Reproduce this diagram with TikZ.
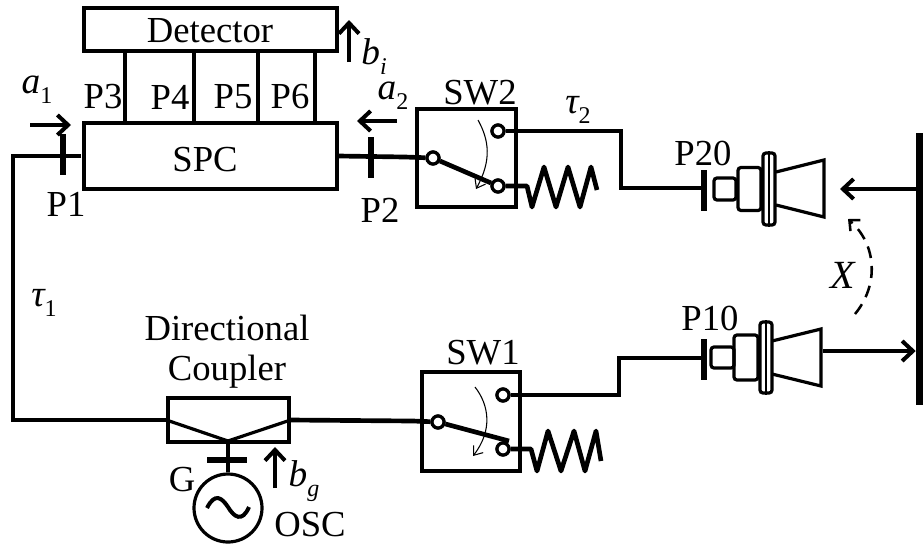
\documentclass[tikz,border=0pt]{standalone}
\usepackage{fontspec}
\setmainfont{Liberation Serif}
\usetikzlibrary{arrows.meta}
\newcommand{\sublab}[2]{#1\raisebox{-.27em}{\fontsize{18}{18}\selectfont #2}}
\tikzset{
  x=0.75pt,y=-0.75pt,
  lab/.style={font=\fontsize{27.5}{27.5}\selectfont,inner sep=0pt,anchor=center},
  mlab/.style={font=\fontsize{28}{28}\selectfont\itshape,inner sep=0pt,anchor=center},
  dims/.style 2 args={minimum width=#1*0.75pt,minimum height=#2*0.75pt},
  wire/.style={line width=3.5pt,line join=miter},
  thin wire/.style={line width=2.4pt},
  tick/.style={line width=4.2pt},
  contact/.style={circle,draw,line width=2.4pt,fill=white,minimum size=12*0.75pt,inner sep=0pt},
  sig/.style={line width=3.4pt,-{Straight Barb[length=8pt,width=15pt,line width=3pt]}},
  sigthin/.style={line width=2.6pt,-{Straight Barb[length=8pt,width=15pt,line width=3pt]}},
  rot/.style={line width=0.8pt,-{Straight Barb[length=6pt,width=9pt,line width=0.8pt]}},
  part/.style={draw,line width=2.4pt,rounded corners=2.2pt,rectangle,inner sep=0pt},
}
\begin{document}
\begin{tikzpicture}
\useasboundingbox (0,0) rectangle (923,547);
% blocks
\node[part,sharp corners,dims={253}{43}] (det) at (210.5,29.5) {};
\node[part,sharp corners,dims={253}{66}] (spc) at (210.5,156) {};
\node[part,sharp corners,dims={99}{98}] (sw2) at (466.5,158) {};
\node[part,sharp corners,dims={98}{99}] (sw1) at (471,421.5) {};
\node[part,sharp corners,dims={121}{44}] (dc) at (228.5,420) {};
% detector links
\foreach \xx in {125,194,258,315}{
  \draw[line width=3.2pt] (\xx,51) -- (\xx,123);
}
% labels
\node[lab] (tdet) at (210,31) {Detector};
\node[lab] (tspc) at (205,160) {SPC};
\node[lab] (tp3) at (103,97) {P3};
\node[lab] (tp4) at (170,97) {P4};
\node[lab] (tp5) at (233,97) {P5};
\node[lab] (tp6) at (290,97) {P6};
\node[lab] (tp1) at (66,204) {P1};
\node[lab] (tp2) at (380,210) {P2};
\node[lab] (tsw2) at (480,93) {SW2};
\node[lab] (tsw1) at (483,353) {SW1};
\node[lab] (tp20) at (703,153) {P20};
\node[lab] (tp10) at (710,318) {P10};
\node[lab] (tdir) at (227,328) {Directional};
\node[lab] (tcpl) at (227,372) {Coupler};
\node[lab] (tg) at (182,480) {G};
\node[lab] (tosc) at (310,525) {OSC};
\node[mlab] (ta1) at (37,90) {\sublab{a}{\upshape 1}};
\node[mlab] (ta2) at (393,96) {\sublab{a}{\upshape 2}};
\node[mlab] (tbi) at (374,57) {\sublab{b}{i}};
\node[mlab] (tbg) at (304,481) {\sublab{b}{g}};
\node[mlab] (tt1) at (44,303) {\sublab{τ}{\upshape 1}};
\node[mlab] (tt2) at (578,110) {\sublab{τ}{\upshape 2}};
\node[mlab,font=\fontsize{30}{30}\selectfont\itshape] (tx) at (843,275) {X};
% anchor points
\coordinate (k1) at (63,156);
\coordinate (k2) at (371,156);
\coordinate (k20) at (704,188);
\coordinate (k10) at (704,358);
% contacts
\node[contact] (c2l) at (433,158) {};
\node[contact] (c2u) at (498,131) {};
\node[contact] (c2d) at (498,186) {};
\node[contact] (c1l) at (438,422) {};
\node[contact] (c1u) at (503,395) {};
\node[contact] (c1d) at (503,449) {};
% wires
\draw[wire,line cap=butt] (81,156) -- (13,156) -- (13,420) -- (110,420) -- (dc.west |- 0,420);
\draw[wire] (spc.east |- 0,156) -- (405,157) -- (c2l);
\draw[wire] (dc.east |- 0,420) -- (413,421) -- (c1l);
\draw[wire] (c2u) -- (621,131) -- (621,188) -- (k20);
\draw[wire] (c1u) -- (619,395) -- (619,358) -- (k10);
\draw[wire] (c2l) -- (c2d);
\draw[wire] (c1l) -- (509,441);
% loads
\draw[wire,line join=round] (c2d) -- (527,186) -- (532,207) -- (544,167) -- (556,207) -- (568,167) -- (580,207) -- (591,167) -- (597,190);
\draw[wire,line join=round] (c1d) -- (531,449) -- (537,471) -- (548,431) -- (561,471) -- (574,431) -- (585,471) -- (596,431) -- (601,461);
% redraw contacts over wires
\node[contact] at (c2l) {};
\node[contact] at (c2u) {};
\node[contact] at (c2d) {};
\node[contact] at (c1l) {};
\node[contact] at (c1u) {};
\node[contact] at (c1d) {};
% throw arrows
\draw[rot] (478,120) .. controls (489,140) and (492,160) .. (476,189);
\draw[rot] (475,387) .. controls (489,405) and (493,430) .. (473,456);
% ticks
\draw[tick] (k1 |- 0,134) -- (k1 |- 0,175);
\draw[tick] (k2 |- 0,137) -- (k2 |- 0,178);
\draw[tick] (k20 |- 0,170) -- (k20 |- 0,211);
\draw[tick] (k10 |- 0,339) -- (k10 |- 0,380);
\draw[tick] (207,460) -- (247,460);
% directional coupler
\coordinate (dcv) at (228,441);
\draw[thin wire,line join=round] (dc.west |- 0,420) -- (dcv) -- (dc.east |- 0,420);
\node[draw,circle,line width=2.4pt,minimum size=68*0.75pt,inner sep=0pt] (osc) at (228,508) {};
\draw[line width=3.4pt] (dcv) -- (osc.north);
\draw[line width=3pt] (207,508) .. controls (215,492) and (222,498) .. (228,507) .. controls (234,517) and (242,523) .. (249,507);
% horn 20
\node[part,dims={22}{22}] (s20) at (725,189) {};
\node[part,dims={23}{43}] (m20) at (749.5,189) {};
\node[part,dims={12}{72}] (f20) at (769,189) {};
\draw[line width=1.5pt] (f20.north) -- (f20.south);
\draw[thin wire,line join=miter] (776,172) -- (824,160) -- (824,217) -- (776,205);
% horn 10
\node[part,dims={23}{21}] (s10) at (722.5,357.5) {};
\node[part,dims={24}{45}] (m10) at (746,357.5) {};
\node[part,dims={12}{71}] (f10) at (766,357.5) {};
\draw[line width=1.5pt] (f10.north) -- (f10.south);
\draw[thin wire,line join=miter] (772,341) -- (821,329) -- (821,386) -- (772,374);
% plate
\node[fill=black,inner sep=0pt,minimum width=7*0.75pt,minimum height=272*0.75pt] (plate) at (919.5,269) {};
% signal arrows
\draw[sig] (30,125) -- (71,125);
\draw[sig] (397,121) -- (357,121);
\draw[sig] (349,62) -- (349,20);
\draw[sig] (275,488) -- (275,447);
\draw[sigthin] (plate.west |- 0,189) -- (840,189);
\draw[sigthin] (823,351) -- (plate.west |- 0,351);
% scan arrow
\draw[line width=1.9pt,dash pattern=on 9pt off 6pt,-{Straight Barb[length=6pt,width=11pt,line width=1.9pt]}] (855,314) .. controls (879,285) and (877,245) .. (848,219);
\end{tikzpicture}
\end{document}
